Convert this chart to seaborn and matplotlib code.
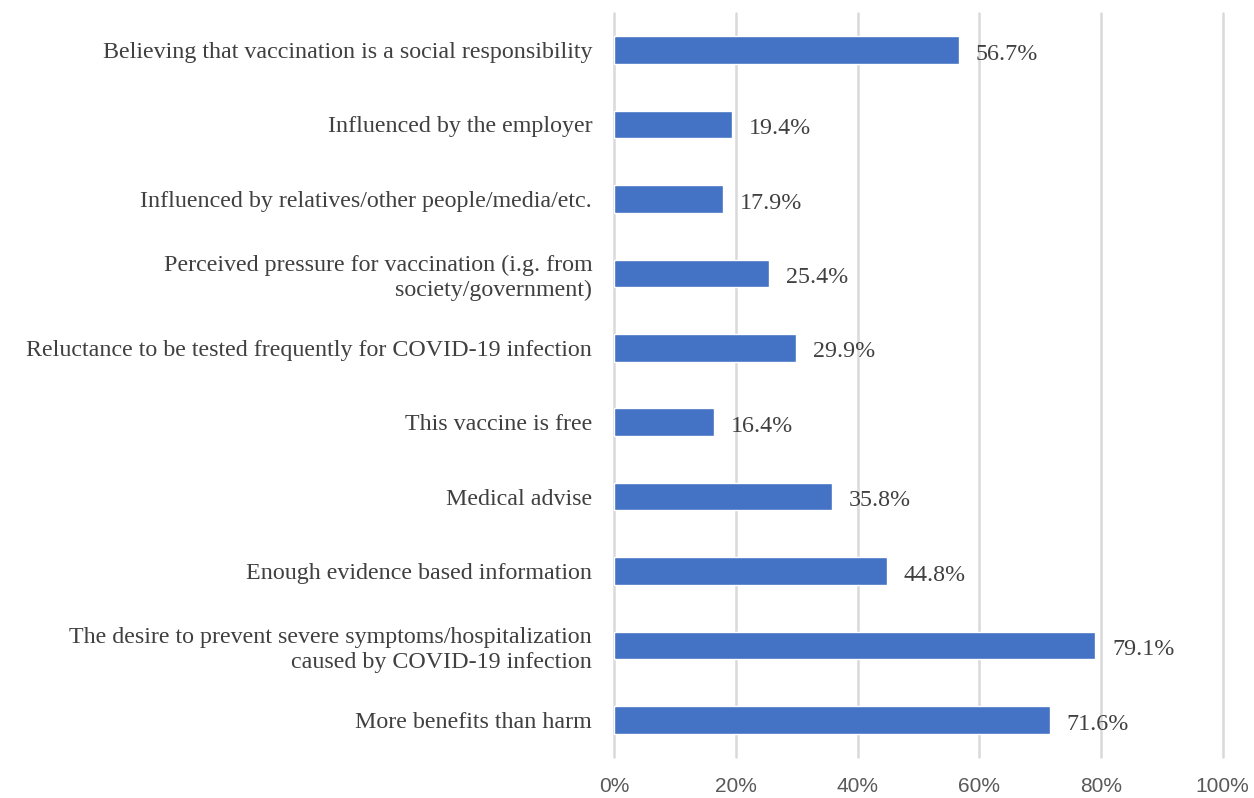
import matplotlib
matplotlib.use("Agg")
import matplotlib.pyplot as plt
import seaborn as sns
import pandas as pd
from matplotlib.ticker import FuncFormatter

categories = [
    "Believing that vaccination is a social responsibility",
    "Influenced by the employer",
    "Influenced by relatives/other people/media/etc.",
    "Perceived pressure for vaccination (i.g. from\nsociety/government)",
    "Reluctance to be tested frequently for COVID-19 infection",
    "This vaccine is free",
    "Medical advise",
    "Enough evidence based information",
    "The desire to prevent severe symptoms/hospitalization\ncaused by COVID-19 infection",
    "More benefits than harm",
]
values = [56.7, 19.4, 17.9, 25.4, 29.9, 16.4, 35.8, 44.8, 79.1, 71.6]
xticks = [0, 20, 40, 60, 80, 100]

df = pd.DataFrame({"category": categories, "value": values})

sns.set_theme(style="white")
plt.rcParams["font.family"] = ["Liberation Serif", "DejaVu Serif"]

fig = plt.figure(figsize=(12.54, 7.98), dpi=100)
ax = fig.add_axes([0.490, 0.051, 0.4849, 0.933])

sns.barplot(data=df, y="category", x="value", order=categories,
            color="#4472C4", saturation=1, width=0.37, ax=ax, orient="h", zorder=3)

ax.set_xlim(0, 100)
ax.set_ylim(len(categories) - 0.5, -0.5)
ax.set_xticks(xticks)
ax.xaxis.set_major_formatter(FuncFormatter(lambda v, p: f"{int(v)}%"))
ax.grid(axis="x", color="#d9d9d9", linewidth=1.8, zorder=0)
for gl in ax.get_xgridlines():
    gl.set_clip_on(False)
ax.set_axisbelow(True)
for s in ax.spines.values():
    s.set_visible(False)
ax.set_xlabel("")
ax.set_ylabel("")
ax.tick_params(axis="y", length=0, pad=16, labelsize=17.3, labelcolor="#404040")
ax.tick_params(axis="x", length=0, pad=14, labelsize=15, labelcolor="#595959")
for lbl in ax.get_xticklabels():
    lbl.set_fontfamily(["Liberation Sans", "DejaVu Sans"])
for lbl in ax.get_yticklabels():
    lbl.set_horizontalalignment("right")
    lbl.set_linespacing(1.25)

for i, v in enumerate(values):
    ax.annotate(f"{v:.1f}%", xy=(v, i), xytext=(12, -3), textcoords="offset points",
                va="center", ha="left", fontsize=17.3, color="#404040")

fig.savefig("out.png", dpi=100)
